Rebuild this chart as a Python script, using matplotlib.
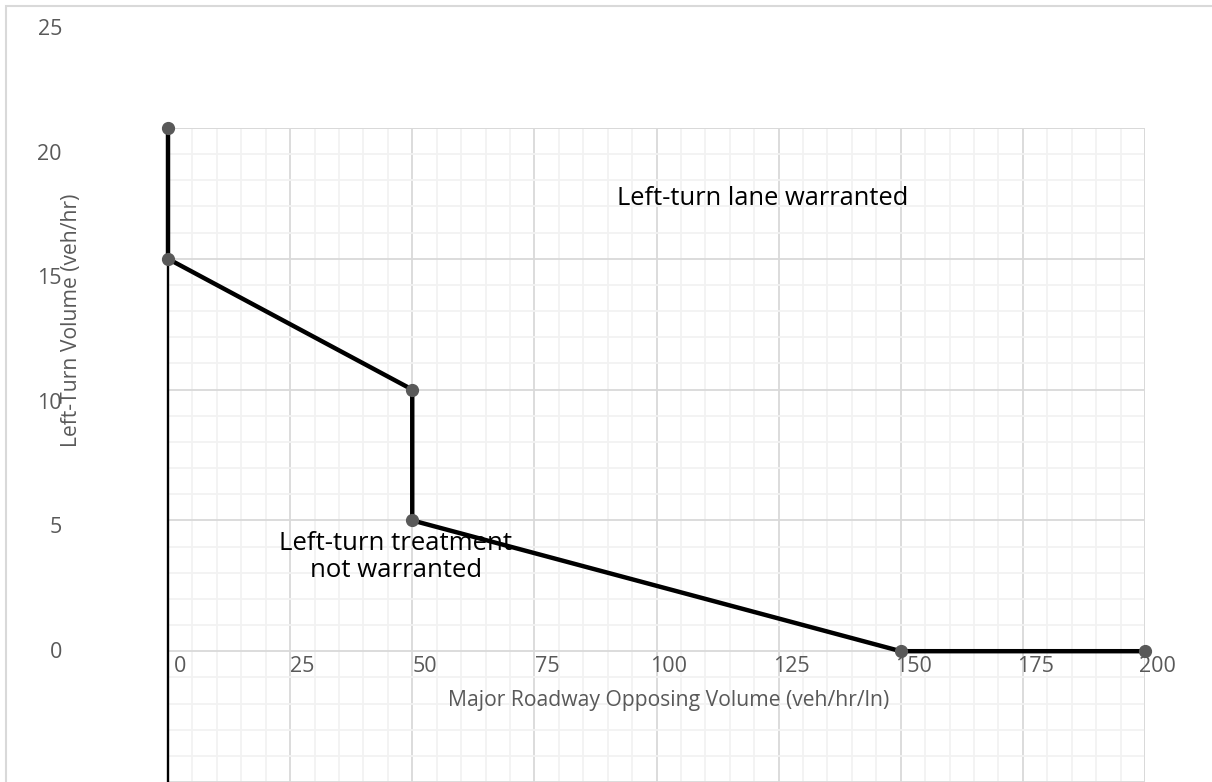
import numpy as np
import matplotlib.pyplot as plt
from matplotlib.patches import Rectangle

plt.rcParams['font.family'] = ['Open Sans', 'DejaVu Sans']

# warrant boundary
opp_volume = [0, 0, 50, 50, 150, 200]
lt_volume = [20, 15, 10, 5, 0, 0]

x_ticks = [0, 25, 50, 75, 100, 125, 150, 175, 200]
y_ticks = [0, 5, 10, 15, 20, 25]

W, H = 1212, 782
fig = plt.figure(figsize=(W / 100, H / 100), dpi=100)

# frame round the chart area
fig.patches.append(Rectangle((6 / W, -0.1), 1.2, 1.1 - 6 / H, transform=fig.transFigure,
                             fill=False, edgecolor='#d9d9d9', lw=1.5, clip_on=False))

ax = fig.add_axes([168 / W, 0, (1145 - 168) / W, 1 - 128 / H])
ax.set_xlim(0, 200)
ax.set_ylim(-4.96, 20)

ax.set_xticks(np.arange(0, 201, 25))
ax.set_xticks(np.arange(0, 201, 5), minor=True)
ax.set_yticks(np.arange(-5, 21, 5))
ax.set_yticks(np.arange(-5, 21, 1), minor=True)
ax.grid(which='minor', color='#f2f2f2', lw=1.3)
ax.grid(which='major', color='#d9d9d9', lw=1.3)
ax.set_axisbelow(True)
ax.tick_params(which='both', length=0, labelbottom=False, labelleft=False)
for s in ['top', 'right', 'bottom', 'left']:
    ax.spines[s].set_visible(False)
ax.plot([200, 200], [-5, 20], color='#d9d9d9', lw=1.3)
ax.plot([0, 200], [20, 20], color='#d9d9d9', lw=1.3)

# vertical axis line at x = 0
ax.plot([0, 0], [-5, 20], color='black', lw=1.7, solid_capstyle='butt', clip_on=False)

ax.plot(opp_volume, lt_volume, color='black', lw=3.2, marker='o', ms=8.5,
        mfc='#595959', mec='#595959', clip_on=False, zorder=5)

# x tick labels sit on the y = 0 line, a little right of each gridline
for v in x_ticks:
    ax.annotate(str(v), (v, 0), xytext=(9, -10.8), textcoords='offset points',
                ha='center', va='center', fontsize=15.5, color='#595959')

ax.text(102.4, -1.9, 'Major Roadway Opposing Volume (veh/hr/ln)', ha='center', va='center',
        fontsize=15.2, color='#595959')

ax.text(121.8, 17.3, 'Left-turn lane warranted', ha='center', va='center', fontsize=18.4)
ax.text(46.6, 3.6, 'Left-turn treatment\nnot warranted', ha='center', va='center',
        fontsize=18.5, linespacing=1.15)

# y tick labels on their own scale
ay = fig.add_axes([62 / W, 0, 0.001, 1])
ay.set_ylim(25 - (H - 27) / 24.92, 25 + 27 / 24.92)
ay.set_yticks(y_ticks)
ay.set_yticklabels([str(v) for v in y_ticks])
ay.tick_params(length=0, pad=0, labelsize=15.5, labelcolor='#595959')
ay.set_xticks([])
for s in ay.spines.values():
    s.set_visible(False)
ay.patch.set_visible(False)

fig.text(71 / W, 1 - 320 / H, 'Left-Turn Volume (veh/hr)', rotation=90, ha='center',
         va='center', fontsize=15.2, color='#595959')

fig.savefig('out.png', dpi=100)
